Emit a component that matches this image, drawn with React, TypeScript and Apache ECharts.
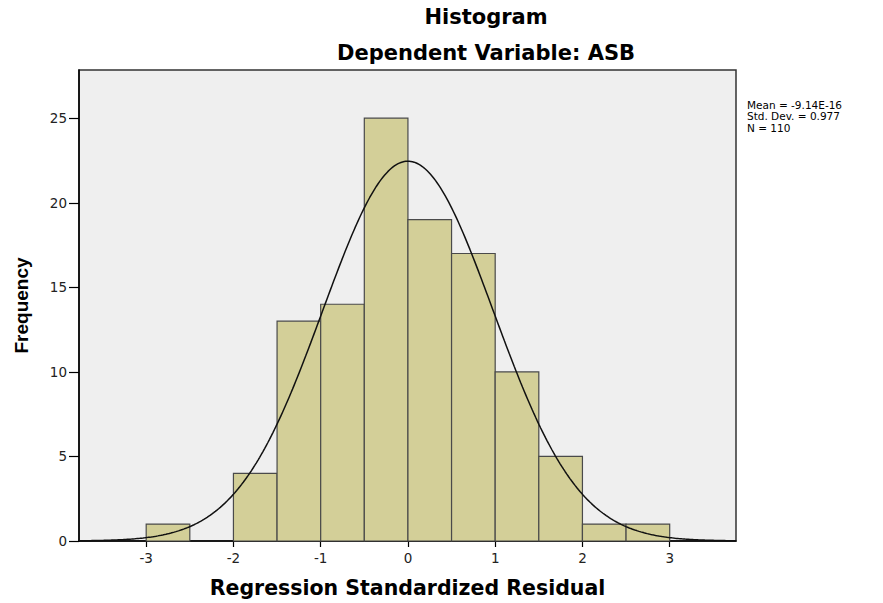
import React, { useEffect, useRef } from "react";
import * as echarts from "echarts";

// Histogram bins (left edges) and frequencies
const binStarts = [-3, -2.5, -2, -1.5, -1, -0.5, 0, 0.5, 1, 1.5, 2, 2.5];
const frequencies = [1, 0, 4, 13, 14, 25, 19, 17, 10, 5, 1, 1];
const binWidth = 0.5;

// Summary statistics shown in the legend (used for the normal curve)
const mean = -9.14e-16;
const stdDev = 0.977;
const nObs = 110;

const xTicks = [-3, -2, -1, 0, 1, 2, 3];
const yTicks = [0, 5, 10, 15, 20, 25];
const xMin = -3.77;
const xMax = 3.76;
const yMax = 27.85;

const titleLines = ["Histogram", "Dependent Variable: ASB"];
const statLines = ["Mean = -9.14E-16", "Std. Dev. = 0.977", "N = 110"];

export default function App() {
  const ref = useRef<HTMLDivElement>(null);

  useEffect(() => {
    if (!ref.current) return;
    const chart = echarts.init(ref.current, null, { renderer: "svg" });

    const barData = binStarts.map((s, i) => [s, s + binWidth, frequencies[i]]);

    const curve: number[][] = [];
    const steps = 400;
    for (let i = 0; i <= steps; i++) {
      const x = xMin + ((xMax - xMin) * i) / steps;
      const z = (x - mean) / stdDev;
      const y = (nObs * binWidth * Math.exp(-0.5 * z * z)) / (stdDev * Math.sqrt(2 * Math.PI));
      curve.push([x, y]);
    }

    const statTexts = statLines.map((t, i) => ({
      type: "text",
      x: 747,
      y: 99 + i * 11.5,
      style: {
        text: t,
        fontFamily: "DejaVu Sans",
        fontSize: 10.5,
        fill: "#000",
        textAlign: "left",
        textVerticalAlign: "top",
      },
    }));

    chart.setOption({
      animation: false,
      backgroundColor: "#ffffff",
      grid: {
        left: 79,
        right: 147,
        top: 70,
        bottom: 59,
        show: true,
        backgroundColor: "#efefef",
        borderColor: "#333333",
        borderWidth: 1.5,
      },
      graphic: [
        {
          type: "text",
          x: 486,
          y: 6,
          style: {
            text: titleLines[0],
            fontFamily: "DejaVu Sans",
            fontWeight: "bold",
            fontSize: 21,
            fill: "#000",
            textAlign: "center",
            textVerticalAlign: "top",
          },
        },
        {
          type: "text",
          x: 486,
          y: 42,
          style: {
            text: titleLines[1],
            fontFamily: "DejaVu Sans",
            fontWeight: "bold",
            fontSize: 21,
            fill: "#000",
            textAlign: "center",
            textVerticalAlign: "top",
          },
        },
        ...statTexts,
      ],
      xAxis: {
        type: "value",
        min: xMin,
        max: xMax,
        name: "Regression Standardized Residual",
        nameLocation: "middle",
        nameGap: 36,
        nameTextStyle: {
          fontFamily: "DejaVu Sans",
          fontWeight: "bold",
          fontSize: 20.5,
          color: "#000",
        },
        splitLine: { show: false },
        axisLine: { show: true, onZero: false, lineStyle: { color: "#000", width: 1.5 } },
        axisTick: {
          show: true,
          length: 6,
          customValues: xTicks,
          lineStyle: { color: "#000", width: 1.2 },
        },
        axisLabel: {
          customValues: xTicks,
          margin: 10,
          fontFamily: "DejaVu Sans",
          fontSize: 13.5,
          color: "#222",
        },
      },
      yAxis: {
        type: "value",
        min: 0,
        max: yMax,
        name: "Frequency",
        nameLocation: "middle",
        nameGap: 48,
        nameTextStyle: {
          fontFamily: "Liberation Sans",
          fontWeight: "bold",
          fontSize: 19,
          color: "#000",
        },
        splitLine: { show: false },
        axisLine: { show: true, onZero: false, lineStyle: { color: "#000", width: 1.5 } },
        axisTick: {
          show: true,
          length: 10,
          customValues: yTicks,
          lineStyle: { color: "#000", width: 1.2 },
        },
        axisLabel: {
          customValues: yTicks,
          margin: 12,
          fontFamily: "DejaVu Sans",
          fontSize: 13.5,
          color: "#222",
        },
      },
      series: [
        {
          type: "custom",
          data: barData,
          encode: { x: [0, 1], y: 2 },
          renderItem: (params: any, api: any) => {
            const x0 = api.value(0);
            const x1 = api.value(1);
            const v = api.value(2);
            if (!v) return null;
            const p0 = api.coord([x0, v]);
            const p1 = api.coord([x1, 0]);
            return {
              type: "rect",
              shape: { x: p0[0], y: p0[1], width: p1[0] - p0[0], height: p1[1] - p0[1] },
              style: { fill: "#d3cf98", stroke: "#4a4a4a", lineWidth: 1.2 },
            };
          },
          z: 2,
        },
        {
          type: "line",
          data: curve,
          showSymbol: false,
          symbol: "none",
          lineStyle: { color: "#111", width: 1.5 },
          z: 3,
          silent: true,
        },
      ],
    });

    return () => chart.dispose();
  }, []);

  return (
    <div
      ref={ref}
      style={{ position: "fixed", left: 0, top: 0, width: 883, height: 603, background: "#fff" }}
    />
  );
}
